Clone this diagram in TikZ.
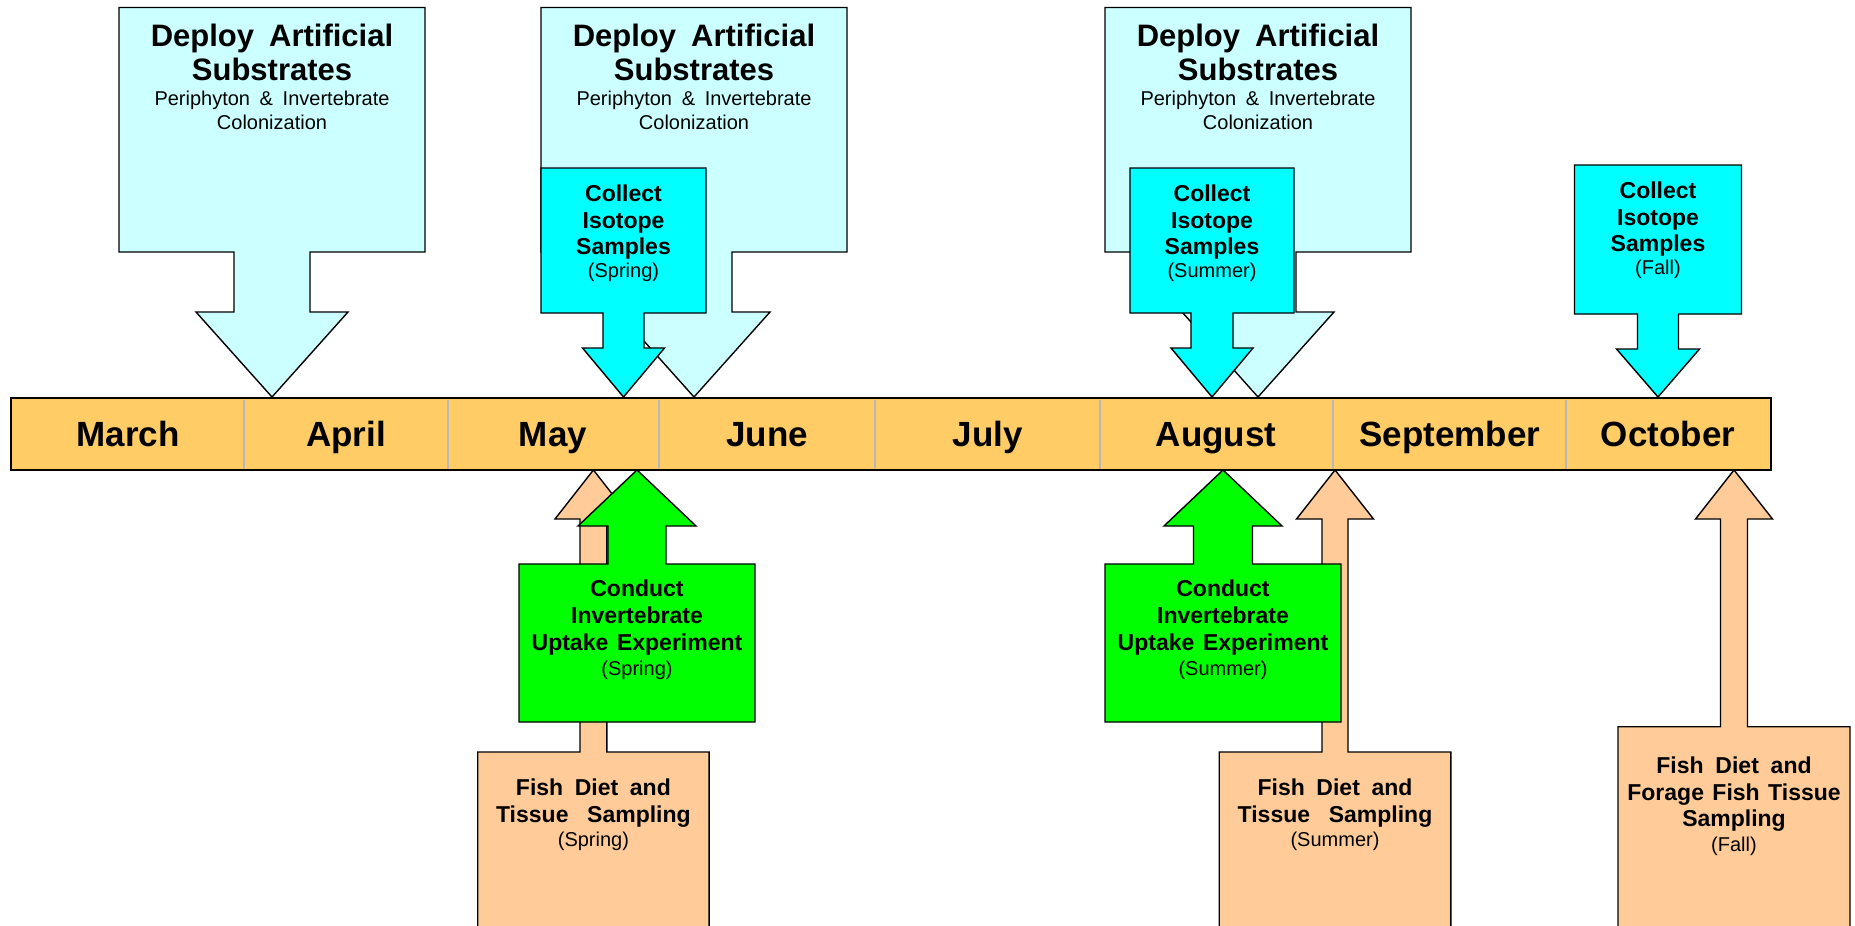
\documentclass[tikz,border=0pt]{standalone}
\usepackage{fontspec}
\setmainfont{Liberation Sans}
\definecolor{deploy}{HTML}{CCFFFF}
\definecolor{collect}{HTML}{00FFFF}
\definecolor{uptake}{HTML}{00FF00}
\definecolor{fish}{HTML}{FFCC99}
\definecolor{band}{HTML}{FFCC66}
\definecolor{divider}{HTML}{B8B8B8}
\tikzset{
  callout/.style={draw=black, line width=1.4pt, line join=miter},
  deployc/.style={callout, fill=deploy},
  collectc/.style={callout, fill=collect},
  uptakec/.style={callout, fill=uptake},
  fishc/.style={callout, fill=fish},
  monthlbl/.style={font=\fontsize{35}{40}\selectfont\bfseries, anchor=base, inner sep=0},
  boxtxt/.style={inner sep=0, align=center, text width=#1, anchor=base},
}
\newcommand\bigb{\fontsize{31}{34.7}\selectfont\bfseries\spaceskip=0.34em plus 0.1em\relax}
\newcommand\midb[1]{\fontsize{23}{#1}\selectfont\bfseries\spaceskip=0.33em plus 0.1em\relax}
\newcommand\smallr[1]{\fontsize{20}{#1}\selectfont\spaceskip=0.32em plus 0.1em\relax}
% #1 style, #2 centre x, #3 half box width, #4 far edge of box, #5 box edge at stem,
% #6 half stem width, #7 head base, #8 half head width, #9 tip
\newcommand\calloutshape[9]{%
  \draw[#1] ({#2-#3},#4) -- ({#2+#3},#4) -- ({#2+#3},#5) -- ({#2+#6},#5) -- ({#2+#6},#7)
    -- ({#2+#8},#7) -- (#2,#9) -- ({#2-#8},#7) -- ({#2-#6},#7) -- ({#2-#6},#5)
    -- ({#2-#3},#5) -- cycle;}
\begin{document}
\begin{tikzpicture}[x=1pt,y=-1pt]
\useasboundingbox (0,0) rectangle (1855,926);
\clip (0,0) rectangle (1855,926);
% timeline band
\fill[band] (11,398) rectangle (1771,470);
\foreach \x in {244,448,659,875,1100,1333,1566}
  \draw[divider, line width=1.2pt] (\x,399.5) -- (\x,468.5);
\draw[line width=2.6pt] (11,398) rectangle (1771,470);
\foreach \n/\x/\t in {march/128/March, april/346/April, may/553/May, june/767/June,
    july/988/July, august/1216/August, september/1450/September, october/1668/October}
  \node[monthlbl] (\n) at (\x,446.7) {\t};
% upper callouts
\calloutshape{deployc}{272}{153}{7.5}{252}{38}{312}{76}{397}
\calloutshape{deployc}{694}{153}{7.5}{252}{38}{312}{76}{397}
\calloutshape{collectc}{623.5}{82.5}{168}{313}{20.5}{348}{41}{397}
\calloutshape{deployc}{1258}{153}{7.5}{252}{38}{312}{76}{397}
\calloutshape{collectc}{1212}{82}{168}{313}{21}{348}{41}{397}
\calloutshape{collectc}{1658}{83.5}{165}{314}{20.5}{349}{41.5}{397}
% lower callouts
\calloutshape{fishc}{593.4}{115.7}{935}{752}{13.4}{519}{38.4}{470}
\calloutshape{uptakec}{637}{118}{722}{564}{29}{526}{59}{470}
\calloutshape{fishc}{1335}{115.8}{935}{752}{13}{519}{38.5}{470}
\calloutshape{uptakec}{1223}{118}{722}{564}{29.5}{526}{59}{470}
\calloutshape{fishc}{1734}{116}{935}{726.7}{13.5}{519}{38.5}{470}
% texts
\foreach \n/\x in {dep1/272, dep2/694, dep3/1258}
  \node[boxtxt=300] (\n) at (\x,46) {{\bigb Deploy Artificial\\Substrates\endgraf}{\smallr{24.5}Periphyton \& Invertebrate\\Colonization\endgraf}};
\node[boxtxt=160] (col1) at (623.5,201.7) {{\midb{26.5}Collect\\Isotope\\Samples\endgraf}{\smallr{23}(Spring)\endgraf}};
\node[boxtxt=160] (col2) at (1212,201.7) {{\midb{26.5}Collect\\Isotope\\Samples\endgraf}{\smallr{23}(Summer)\endgraf}};
\node[boxtxt=160] (col3) at (1658,198.5) {{\midb{26.5}Collect\\Isotope\\Samples\endgraf}{\smallr{23}(Fall)\endgraf}};
\node[boxtxt=230] (upt1) at (637,596.7) {{\midb{26.7}Conduct\\Invertebrate\\Uptake Experiment\endgraf}{\smallr{25}(Spring)\endgraf}};
\node[boxtxt=230] (upt2) at (1223,596.7) {{\midb{26.7}Conduct\\Invertebrate\\Uptake Experiment\endgraf}{\smallr{25}(Summer)\endgraf}};
\node[boxtxt=225] (fish1) at (593.4,795) {{\midb{27.3}Fish Diet and\\Tissue\ \ Sampling\endgraf}{\smallr{24.4}(Spring)\endgraf}};
\node[boxtxt=225] (fish2) at (1335,795) {{\midb{27.3}Fish Diet and\\Tissue\ \ Sampling\endgraf}{\smallr{24.4}(Summer)\endgraf}};
\node[boxtxt=228] (fish3) at (1734,773.3) {{\midb{26.7}Fish Diet and\\Forage Fish Tissue\\Sampling\endgraf}{\smallr{25}(Fall)\endgraf}};
\end{tikzpicture}
\end{document}
